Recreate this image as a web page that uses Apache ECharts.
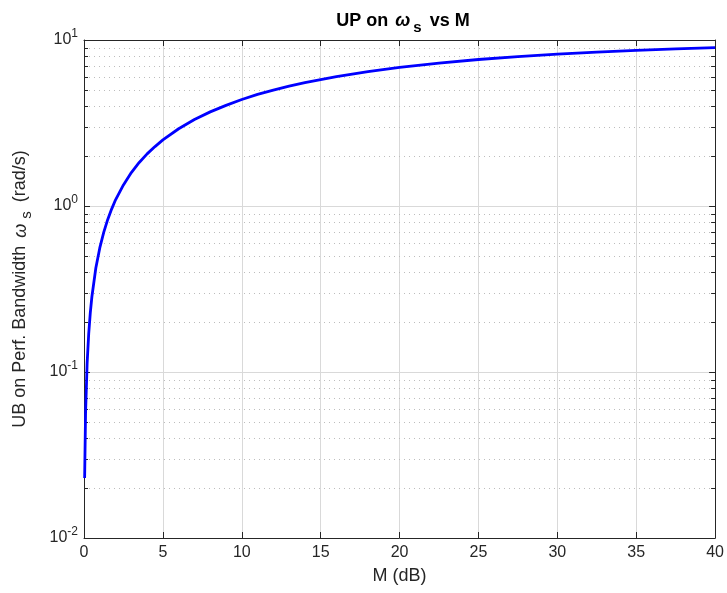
<!DOCTYPE html>
<html>
<head>
<meta charset="utf-8">
<script src="https://cdn.jsdelivr.net/npm/echarts@6/dist/echarts.min.js"></script>
<style>
  html, body { margin: 0; padding: 0; background: #fff; }
  #chart { width: 727px; height: 593px; }
</style>
</head>
<body>
<div id="chart"></div>
<script>
// M (dB) and read-off upper bound on omega_s (rad/s)
const mDb = [0.04, 0.1, 0.2, 0.3, 0.4, 0.5, 0.75, 1, 1.25, 1.5, 1.75, 2, 2.5, 3, 3.5, 4, 4.5, 5, 6, 7, 8, 9, 10, 11, 12, 13, 14, 16, 18, 20, 22.5, 25, 27.5, 30, 32.5, 35, 37.5, 40]
const omegaS = [0.023, 0.057, 0.114, 0.171, 0.228, 0.284, 0.423, 0.559, 0.694, 0.827, 0.958, 1.09, 1.34, 1.59, 1.83, 2.06, 2.28, 2.50, 2.92, 3.32, 3.69, 4.04, 4.38, 4.70, 4.99, 5.27, 5.53, 6.02, 6.45, 6.84, 7.26, 7.63, 7.95, 8.22, 8.46, 8.67, 8.85, 9.00]
const minorY = [0.02, 0.03, 0.04, 0.05, 0.06, 0.07, 0.08, 0.09,
  0.2, 0.3, 0.4, 0.5, 0.6, 0.7, 0.8, 0.9,
  2, 3, 4, 5, 6, 7, 8, 9]
const xTicks = [0, 5, 10, 15, 20, 25, 30, 35, 40]
const yExp = { 0.01: '-2', 0.1: '-1', 1: '0', 10: '1' }

const font = '"Liberation Sans", Arial, sans-serif'
const ink = '#262626'
const chart = echarts.init(document.getElementById('chart'))

const boxAxis = {
  axisLine: { show: true, onZero: false, lineStyle: { color: ink, width: 1 } },
  axisTick: { show: true, inside: true, length: 6, lineStyle: { color: ink } }
}

chart.setOption({
  animation: false,
  textStyle: { fontFamily: font },
  title: {
    text: '{a|UP on }{w|ω}{s|s}{a| vs M}',
    left: 398,
    top: 3,
    textAlign: 'center',
    textStyle: {
      rich: {
        a: { fontSize: 18, fontWeight: 'bold', color: '#000', fontFamily: font },
        w: { fontSize: 18, fontWeight: 'bold', fontStyle: 'italic', color: '#000', fontFamily: font, padding: [0, 2, 0, 2] },
        s: { fontSize: 15, fontWeight: 'bold', color: '#000', fontFamily: font, padding: [12, 3, 0, 1] }
      }
    }
  },
  grid: { left: 84, right: 11, top: 40, bottom: 55 },
  xAxis: [
    {
      type: 'value', min: 0, max: 40, interval: 5, position: 'bottom',
      name: 'M (dB)', nameLocation: 'middle', nameGap: 29,
      nameTextStyle: { fontSize: 18, color: ink, fontFamily: font },
      ...boxAxis,
      axisLabel: { fontSize: 16, color: ink, margin: 7, formatter: v => xTicks.includes(v) ? String(v) : '' },
      splitLine: { show: true, lineStyle: { color: '#d9d9d9', width: 1 } }
    },
    {
      type: 'value', min: 0, max: 40, interval: 5, position: 'top',
      ...boxAxis,
      axisLabel: { show: false },
      splitLine: { show: false }
    }
  ],
  yAxis: [
    {
      type: 'log', logBase: 10, min: 0.01, max: 10, interval: 1, position: 'left',
      name: '{a|UB on Perf. Bandwidth }{w|ω}{s|s}{a| (rad/s)}',
      nameLocation: 'middle', nameGap: 50,
      nameTextStyle: {
        rich: {
          a: { fontSize: 18, color: ink, fontFamily: font },
          w: { fontSize: 18, fontStyle: 'italic', color: ink, fontFamily: font, padding: [0, 3, 0, 3] },
          s: { fontSize: 15, color: ink, fontFamily: font, padding: [12, 4, 0, 2] }
        }
      },
      ...boxAxis,
      axisLabel: {
        margin: 6,
        formatter: v => {
          const k = Object.keys(yExp).find(t => Math.abs(Number(t) - v) / v < 1e-6)
          return k ? '{b|10}{e|' + yExp[k] + '}' : ''
        },
        rich: {
          b: { fontSize: 16, color: ink, fontFamily: font },
          e: { fontSize: 12, color: ink, fontFamily: font, padding: [0, 0, 12, 0] }
        }
      },
      splitLine: { show: true, lineStyle: { color: '#d9d9d9', width: 1 } }
    },
    {
      type: 'log', logBase: 10, min: 0.01, max: 10, interval: 1, position: 'right',
      ...boxAxis,
      axisLabel: { show: false },
      splitLine: { show: false }
    }
  ],
  series: [
    {
      type: 'custom',
      silent: true,
      z: 1,
      data: minorY.map(v => [0, v]),
      encode: { x: 0, y: 1 },
      renderItem: (params, api) => {
        const cs = params.coordSys
        const y = Math.round(api.coord([0, api.value(1)])[1]) + 0.5
        return {
          type: 'group',
          children: [
            { type: 'line', shape: { x1: cs.x, y1: y, x2: cs.x + cs.width, y2: y },
              style: { stroke: '#bdbdbd', lineWidth: 1, lineDash: [1, 4] } },
            { type: 'line', shape: { x1: cs.x, y1: y, x2: cs.x + 4, y2: y },
              style: { stroke: ink, lineWidth: 1 } },
            { type: 'line', shape: { x1: cs.x + cs.width - 4, y1: y, x2: cs.x + cs.width, y2: y },
              style: { stroke: ink, lineWidth: 1 } }
          ]
        }
      }
    },
    {
      type: 'line',
      z: 3,
      showSymbol: false,
      smooth: false,
      data: mDb.map((m, i) => [m, omegaS[i]]),
      lineStyle: { color: '#0000ff', width: 2.8 }
    }
  ]
})
</script>
</body>
</html>
